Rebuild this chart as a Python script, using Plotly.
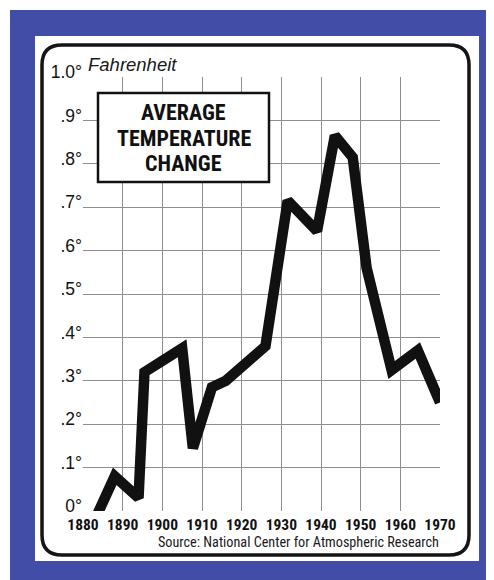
import plotly.graph_objects as go

# values (years, degrees F change)
years = [1883.5, 1888, 1894, 1895.5, 1905, 1907.7, 1912.5, 1916, 1926,
         1931.6, 1939, 1943.5, 1948, 1951.5, 1957.8, 1964.4, 1970]
temp_change = [-0.01, 0.08, 0.03, 0.32, 0.375, 0.145, 0.285, 0.30, 0.38,
               0.715, 0.645, 0.865, 0.815, 0.56, 0.325, 0.37, 0.25]

x_ticks = list(range(1880, 1971, 10))
y_ticks = [round(i * 0.1, 1) for i in range(11)]
y_tick_text = ["0°", ".1°", ".2°", ".3°", ".4°", ".5°", ".6°", ".7°", ".8°", ".9°", "1.0°"]
title_lines = ["AVERAGE", "TEMPERATURE", "CHANGE"]

# page pixels; the html body adds an 8px offset
OFF = 8
W, H = 494 - OFF, 580 - OFF
L, R, T, B = 83, 440, 77, 511  # plot area in page pixels


def px(x):
    return (x - L) / (R - L)


def py(y):
    return (B - y) / (B - T)


cond = "Roboto Condensed, Roboto, sans-serif"

fig = go.Figure()
fig.add_trace(go.Scatter(
    x=years, y=temp_change, mode="lines",
    line=dict(color="#111111", width=10.5),
    hoverinfo="skip", showlegend=False,
))

# rounded frame path
x0, x1, y0, y1, r = px(42), px(469), py(45), py(555), 20
rx, ry = r / (R - L), r / (B - T)
frame = (f"M {x0+rx},{y0} L {x1-rx},{y0} Q {x1},{y0} {x1},{y0-ry} "
         f"L {x1},{y1+ry} Q {x1},{y1} {x1-rx},{y1} L {x0+rx},{y1} "
         f"Q {x0},{y1} {x0},{y1+ry} L {x0},{y0-ry} Q {x0},{y0} {x0+rx},{y0} Z")

shapes = [
    # thin white strips top/left like the scan
    dict(type="rect", xref="paper", yref="paper", layer="below",
         x0=px(OFF), x1=px(494), y0=py(OFF), y1=py(10),
         fillcolor="white", line=dict(width=0)),
    dict(type="rect", xref="paper", yref="paper", layer="below",
         x0=px(OFF), x1=px(10), y0=py(OFF), y1=py(580),
         fillcolor="white", line=dict(width=0)),
    dict(type="rect", xref="paper", yref="paper", layer="below",
         x0=px(35), x1=px(479), y0=py(36), y1=py(561),
         fillcolor="white", line=dict(width=0)),
    dict(type="path", xref="paper", yref="paper", path=frame,
         line=dict(color="#151515", width=3.5)),
    dict(type="rect", xref="paper", yref="paper", layer="above",
         x0=px(98), x1=px(269), y0=py(93), y1=py(182),
         fillcolor="white", line=dict(color="#111111", width=2.5)),
]

annotations = []
for line_text, ly in zip(title_lines, [112, 138, 163]):
    annotations.append(dict(
        xref="paper", yref="paper", x=px(183.5), y=py(ly),
        xanchor="center", yanchor="middle", showarrow=False, text=line_text,
        font=dict(family=cond, size=22, color="#111111", weight="bold")))

annotations += [
    dict(xref="paper", yref="paper", x=px(86), y=py(65), xanchor="left", yanchor="middle",
         showarrow=False, text="<i>Fahrenheit</i>",
         font=dict(family="Liberation Sans, Arial, sans-serif", size=18.5, color="#1a1a1a")),
    dict(xref="paper", yref="paper", x=px(441), y=py(542), xanchor="right", yanchor="middle",
         showarrow=False, text="Source: National Center for Atmospheric Research",
         font=dict(family=cond, size=14.2, color="#1a1a1a")),
]

fig.update_layout(
    width=W, height=H,
    margin=dict(l=L - OFF, r=W - (R - OFF), t=T - OFF, b=H - (B - OFF), pad=0),
    paper_bgcolor="#414da6",
    plot_bgcolor="#b9b9b9",
    shapes=shapes,
    annotations=annotations,
    xaxis=dict(range=[1880, 1970], tickvals=x_ticks, showgrid=True,
               gridcolor="#8e8e8e", gridwidth=1.2, zeroline=False, ticks="",
               ticklabelstandoff=2,
               tickfont=dict(family=cond, size=15.5, color="#111111", weight="bold"),
               showline=False, fixedrange=True),
    yaxis=dict(range=[0, 1.0], tickvals=y_ticks, ticktext=y_tick_text, showgrid=True,
               gridcolor="#8e8e8e", gridwidth=1.2, zeroline=False, ticks="",
               ticklabelshift=-5,
               tickfont=dict(family="Liberation Sans, Arial, sans-serif", size=17.5, color="#111111"),
               showline=False, fixedrange=True),
)

fig.write_html("out.html")
